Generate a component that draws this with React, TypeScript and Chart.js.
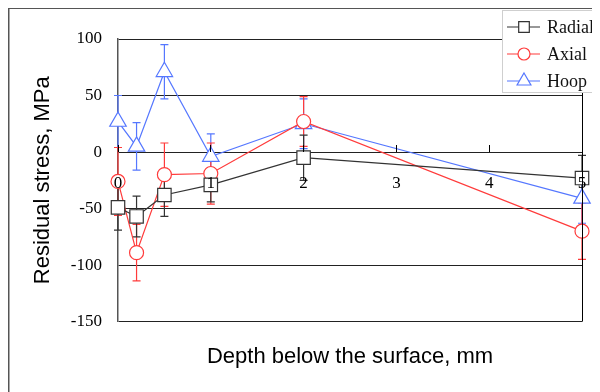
import { useEffect, useRef } from 'react';
import { Chart, registerables } from 'chart.js';
import { drawPoint } from 'chart.js/helpers';

Chart.register(...registerables);

const depths = [0, 0.2, 0.5, 1, 2, 5];
const radial = [-49, -57, -38, -29, -5, -23];
const radialErr = [20, 18, 19, 15, 20, 20];
const axial = [-26, -89, -20, -19, 27, -70];
const axialErr = [30, 25, 28, 27, 22, 25];
const hoop = [27, 5, 71, -4, 25, -41];
const hoopErr = [23, 21, 24, 20, 22, 22];
const seriesNames = ['Radial', 'Axial', 'Hoop'];
const xTitle = 'Depth below the surface, mm';
const yTitle = 'Residual stress, MPa';
const yTicks = [-150, -100, -50, 0, 50, 100];

const colors = ['#333333', '#ff3b3b', '#5577ff'];
const pointStyles = ['rect', 'circle', 'triangle'];
const pointRadii = [9.5, 7, 9.5];
const legendRadii = [7.5, 6, 8];
const errSets = [radialErr, axialErr, hoopErr];

const SERIF = "'Liberation Serif', 'Times New Roman', serif";
const SANS = "'Liberation Sans', Arial, sans-serif";

const errorBars = {
  id: 'errorBars',
  beforeDatasetsDraw(chart: any) {
    const { ctx } = chart;
    const x = chart.scales.x;
    const y = chart.scales.y;
    for (let i = chart.data.datasets.length - 1; i >= 0; i--) {
      const ds = chart.data.datasets[i];
      const errs = errSets[i];
      ctx.save();
      ctx.strokeStyle = ds.borderColor;
      ctx.lineWidth = 1.2;
      ds.data.forEach((p: any, j: number) => {
        const px = x.getPixelForValue(p.x);
        const top = y.getPixelForValue(p.y + errs[j]);
        const bot = y.getPixelForValue(p.y - errs[j]);
        ctx.beginPath();
        ctx.moveTo(px, top);
        ctx.lineTo(px, bot);
        ctx.moveTo(px - 4, top);
        ctx.lineTo(px + 4, top);
        ctx.moveTo(px - 4, bot);
        ctx.lineTo(px + 4, bot);
        ctx.stroke();
      });
      ctx.restore();
    }
  },
};

const frameAndLegend = {
  id: 'frameAndLegend',
  afterDraw(chart: any) {
    const { ctx, chartArea } = chart;
    ctx.save();
    // right border of plot
    ctx.strokeStyle = '#000';
    ctx.lineWidth = 1;
    ctx.beginPath();
    ctx.moveTo(Math.round(chartArea.right) + 0.5, chartArea.top);
    ctx.lineTo(Math.round(chartArea.right) + 0.5, chartArea.bottom);
    ctx.stroke();
    // outer frame
    ctx.strokeStyle = '#555';
    ctx.lineWidth = 2;
    ctx.beginPath();
    ctx.moveTo(0.5, chart.height);
    ctx.lineTo(0.5, 0);
    ctx.lineTo(chart.width, 0);
    ctx.stroke();
    // legend
    const lx = 494;
    const ly = 2;
    ctx.fillStyle = '#fff';
    ctx.fillRect(lx, ly, 96, 82);
    ctx.strokeStyle = '#cfcfcf';
    ctx.lineWidth = 1;
    ctx.strokeRect(lx + 0.5, ly + 0.5, 95, 82);
    chart.data.datasets.forEach((ds: any, i: number) => {
      const cy = ly + 17 + i * 27;
      ctx.strokeStyle = ds.borderColor;
      ctx.lineWidth = 1.2;
      ctx.beginPath();
      ctx.moveTo(lx + 5, cy);
      ctx.lineTo(lx + 38, cy);
      ctx.stroke();
      ctx.fillStyle = '#fff';
      drawPoint(ctx, { pointStyle: pointStyles[i], radius: legendRadii[i], rotation: 0, borderWidth: 1.2 } as any, lx + 22, cy);
      ctx.fillStyle = '#111';
      ctx.font = `18px ${SERIF}`;
      ctx.textBaseline = 'middle';
      ctx.textAlign = 'left';
      ctx.fillText(ds.label, lx + 45, cy + 1);
    });
    ctx.restore();
  },
};

export default function App() {
  const ref = useRef<HTMLCanvasElement | null>(null);
  useEffect(() => {
    if (!ref.current) return;
    const seriesVals = [radial, axial, hoop];
    const chart = new Chart(ref.current, {
      type: 'line',
      data: {
        datasets: seriesNames.map((name, i) => ({
          label: name,
          data: depths.map((d, j) => ({ x: d, y: seriesVals[i][j] })),
          borderColor: colors[i],
          backgroundColor: '#fff',
          borderWidth: 1.2,
          pointStyle: pointStyles[i] as any,
          pointRadius: pointRadii[i],
          pointBackgroundColor: '#fff',
          pointBorderColor: colors[i],
          pointBorderWidth: 1.2,
          tension: 0,
          clip: false as any,
        })),
      },
      options: {
        animation: false,
        responsive: false,
        layout: { padding: { top: 31, right: 18, left: 0, bottom: 0 } },
        plugins: {
          legend: { display: false },
          tooltip: { enabled: false },
          title: {
            display: true,
            position: 'bottom',
            fullSize: false,
            text: xTitle,
            color: '#000',
            font: { family: SANS, size: 22, weight: 'normal' as any },
            padding: { top: 22, bottom: 22 },
          },
        },
        scales: {
          x: {
            type: 'linear',
            min: 0,
            max: 5,
            position: { y: 0 } as any,
            afterFit: (s: any) => { s.height = 0; s.paddingLeft = 0; s.paddingRight = 0; },
            grid: { display: true, drawOnChartArea: false, drawTicks: true, tickLength: -7, color: '#000', z: 1 },
            border: { display: false },
            ticks: { z: 1, stepSize: 1, autoSkip: false, maxRotation: 0, padding: 28, color: '#000', font: { family: SERIF, size: 17 } },
          },
          y: {
            type: 'linear',
            min: -150,
            max: 100,
            afterFit: (s: any) => { s.width = 110; },
            afterBuildTicks: (s: any) => { s.ticks = yTicks.map((v) => ({ value: v })); },
            grid: { color: '#222', lineWidth: 1, drawTicks: false },
            border: { display: true, color: '#555', width: 1.5 },
            ticks: { padding: 16, color: '#000', font: { family: SERIF, size: 17 } },
            title: {
              display: true,
              text: yTitle,
              color: '#000',
              font: { family: SANS, size: 22, weight: 'normal' as any },
              padding: { top: 22, bottom: 0 },
            },
          },
        },
      },
      plugins: [errorBars, frameAndLegend],
    });
    return () => chart.destroy();
  }, []);
  return <canvas ref={ref} width={592} height={384} style={{ display: 'block' }} />;
}
